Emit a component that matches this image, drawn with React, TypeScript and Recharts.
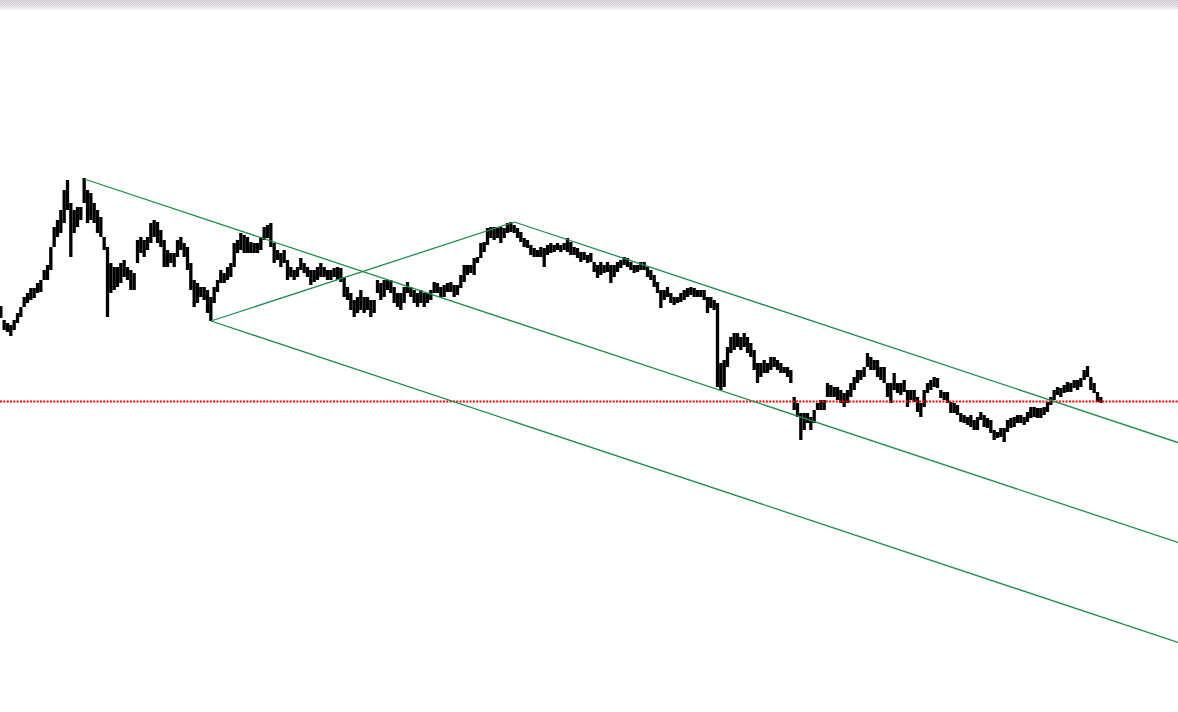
import React from 'react';
import { ComposedChart, Bar, XAxis, YAxis, ReferenceLine } from 'recharts';

// Bar highs / lows (price units), one entry per bar, oldest first
const highs: number[] = [
  694, 680, 677, 675, 680, 687, 693, 703, 707, 712,
  712, 717, 720, 730, 735, 753, 773, 780, 790, 810,
  820, 797, 790, 793, 793, 822, 810, 807, 797, 790,
  783, 763, 753, 737, 733, 733, 737, 740, 733, 730,
  727, 760, 763, 760, 763, 777, 780, 778, 770, 760,
  750, 747, 747, 760, 763, 757, 753, 737, 720, 717,
  713, 713, 710, 703,
  713, 720, 730, 727, 733, 737, 757, 760, 767, 765,
  763, 758, 757, 757, 763, 773, 775, 777, 757, 750,
  747, 750, 740, 733, 730, 733, 742, 737, 733, 730,
  730, 733, 737, 733, 730, 730, 732, 733, 732, 723,
  713, 707, 700, 703, 710, 703, 703, 700, 700, 720,
  717, 720, 720, 720, 713, 707, 707, 713, 718, 713,
  710, 707, 710, 707, 707, 710, 718, 717, 713, 715,
  717, 718, 715, 715, 725, 735, 735, 735, 742, 743,
  757, 758, 772, 773, 773, 772, 773, 772, 777, 778,
  775, 772, 768, 762, 760, 755, 752, 750, 753, 752,
  755, 757, 755, 757, 755, 757, 762, 758, 753, 752,
  748, 748, 745, 747, 738, 735, 738, 735, 738, 735,
  735, 738, 740, 743, 742, 738, 735, 735, 738, 738,
  733, 730, 725, 718, 710, 710, 713, 707, 703, 703,
  707, 710, 712, 713, 712, 710, 710, 710, 703, 703,
  700, 697, 637, 640, 653, 663, 667, 667, 663, 667,
  663, 657, 650, 637, 637, 640, 637, 643, 643, 640,
  637, 633, 633, 630, 603, 597, 587, 587, 587, 583,
  590, 597, 600, 600, 617, 615, 613, 613, 610, 607,
  610, 617, 623, 630, 630, 633, 647, 643, 640, 640,
  633, 633, 617, 617, 627, 617, 617, 620, 610, 610,
  610, 603, 597, 610, 617, 620, 623, 622, 610, 608,
  608, 598, 597, 595, 587, 585, 583, 585, 580, 583,
  588, 585, 582, 580, 570, 568, 572, 572, 580, 582,
  583, 585, 585, 583, 588, 593, 593, 592, 592, 593,
  598, 603, 610, 613, 612, 615, 618, 617, 620, 620,
  622, 630, 634, 623, 617, 608, 603,
];

const lows: number[] = [
  682, 670, 668, 664, 670, 677, 683, 693, 697, 700,
  702, 707, 708, 720, 720, 730, 753, 763, 767, 777,
  790, 743, 767, 773, 780, 797, 777, 780, 777, 767,
  763, 750, 683, 707, 710, 713, 717, 723, 720, 710,
  710, 737, 747, 743, 750, 757, 763, 757, 753, 733,
  733, 737, 733, 743, 750, 743, 730, 710, 693, 697,
  703, 700, 687, 679,
  697, 708, 717, 717, 720, 723, 733, 747, 750, 747,
  747, 747, 747, 747, 750, 760, 762, 753, 737, 740,
  733, 737, 720, 723, 720, 723, 730, 727, 723, 715,
  718, 720, 723, 723, 720, 720, 723, 720, 718, 703,
  700, 690, 683, 687, 690, 687, 690, 683, 687, 707,
  700, 703, 710, 707, 697, 693, 690, 697, 707, 703,
  697, 693, 697, 693, 697, 700, 707, 707, 703, 703,
  708, 708, 703, 705, 712, 718, 725, 727, 725, 737,
  742, 748, 755, 762, 760, 762, 757, 762, 767, 768,
  767, 762, 758, 753, 752, 745, 743, 743, 743, 733,
  745, 747, 748, 750, 748, 750, 748, 745, 745, 742,
  738, 740, 737, 738, 728, 722, 725, 727, 728, 717,
  723, 728, 732, 735, 733, 730, 727, 728, 730, 730,
  723, 720, 713, 707, 692, 700, 703, 697, 695, 697,
  698, 700, 703, 705, 703, 703, 703, 700, 687, 692,
  690, 613, 610, 613, 633, 647, 650, 653, 650, 653,
  647, 643, 630, 617, 623, 627, 627, 630, 633, 630,
  627, 627, 623, 617, 590, 583, 560, 570, 577, 570,
  577, 590, 590, 590, 603, 603, 603, 600, 597, 593,
  597, 603, 610, 617, 620, 623, 633, 630, 630, 623,
  620, 617, 603, 597, 610, 607, 605, 608, 593, 600,
  598, 588, 583, 593, 607, 610, 613, 612, 602, 600,
  597, 587, 587, 585, 578, 577, 575, 573, 570, 570,
  580, 573, 572, 567, 560, 562, 563, 558, 568, 572,
  573, 577, 577, 575, 578, 582, 583, 582, 582, 585,
  588, 595, 600, 605, 603, 607, 608, 608, 612, 610,
  613, 620, 623, 610, 607, 598, 597,
];

// Pitchfork anchors (bar index, price)
const pivotIndex: number[] = [25, 63, 154];
const pivotPrice: number[] = [821, 679, 778];

// Current price level (dotted red line)
const currentLevel = 598.5;

const X_DOMAIN: [number, number] = [-0.3, 353.1];
const Y_DOMAIN: [number, number] = [288, 1000];

const data = highs.map((h, i) => ({ i, range: [lows[i], h] }));

const [aI, bI, cI] = pivotIndex;
const [aP, bP, cP] = pivotPrice;
const midI = (bI + cI) / 2;
const midP = (bP + cP) / 2;
const slope = (midP - aP) / (midI - aI);
const endI = X_DOMAIN[1];
const at = (i0: number, p0: number, i: number) => p0 + slope * (i - i0);

const GREEN = '#1e8f47';
const BAR_W = 3.3;

const HiLoBar = (props: any) => {
  const { x, y, width, height } = props;
  if (x == null || y == null) return null;
  const cx = x + width / 2;
  const top = Math.min(y, y + height);
  const h = Math.max(Math.abs(height), 1);
  return <rect x={cx - BAR_W / 2} y={top} width={BAR_W} height={h} fill="#000000" />;
};

export default function App() {
  return (
    <div style={{ position: 'absolute', left: 0, top: 0, width: 1178, height: 712, background: '#ffffff', overflow: 'hidden' }}>
      <div
        style={{
          position: 'absolute',
          left: 0,
          top: 0,
          width: 1178,
          height: 10,
          background:
            'linear-gradient(to bottom, rgba(255,255,255,0) 0%, rgba(255,255,255,0.25) 60%, rgba(255,255,255,0.85) 100%), repeating-conic-gradient(#c2c2c2 0% 25%, #eedcee 0% 50%) 0 0 / 2px 2px',
        }}
      />
      <ComposedChart width={1178} height={712} data={data} margin={{ top: 0, right: 0, bottom: 0, left: 0 }}>
        <XAxis type="number" dataKey="i" domain={X_DOMAIN} hide allowDataOverflow />
        <YAxis type="number" domain={Y_DOMAIN} hide allowDataOverflow />
        <ReferenceLine y={currentLevel} stroke="#ff0000" strokeWidth={2} strokeDasharray="2 1.33" />
        <Bar dataKey="range" fill="#000000" barSize={3} shape={HiLoBar} isAnimationActive={false} />
        <ReferenceLine
          ifOverflow="visible"
          stroke={GREEN}
          strokeWidth={1.3}
          segment={[{ x: aI, y: aP }, { x: endI, y: at(aI, aP, endI) }]}
        />
        <ReferenceLine
          ifOverflow="visible"
          stroke={GREEN}
          strokeWidth={1.3}
          segment={[{ x: bI, y: bP }, { x: endI, y: at(bI, bP, endI) }]}
        />
        <ReferenceLine
          ifOverflow="visible"
          stroke={GREEN}
          strokeWidth={1.3}
          segment={[{ x: cI, y: cP }, { x: endI, y: at(cI, cP, endI) }]}
        />
        <ReferenceLine
          ifOverflow="visible"
          stroke={GREEN}
          strokeWidth={1.3}
          segment={[{ x: bI, y: bP }, { x: cI, y: cP }]}
        />
      </ComposedChart>
    </div>
  );
}
